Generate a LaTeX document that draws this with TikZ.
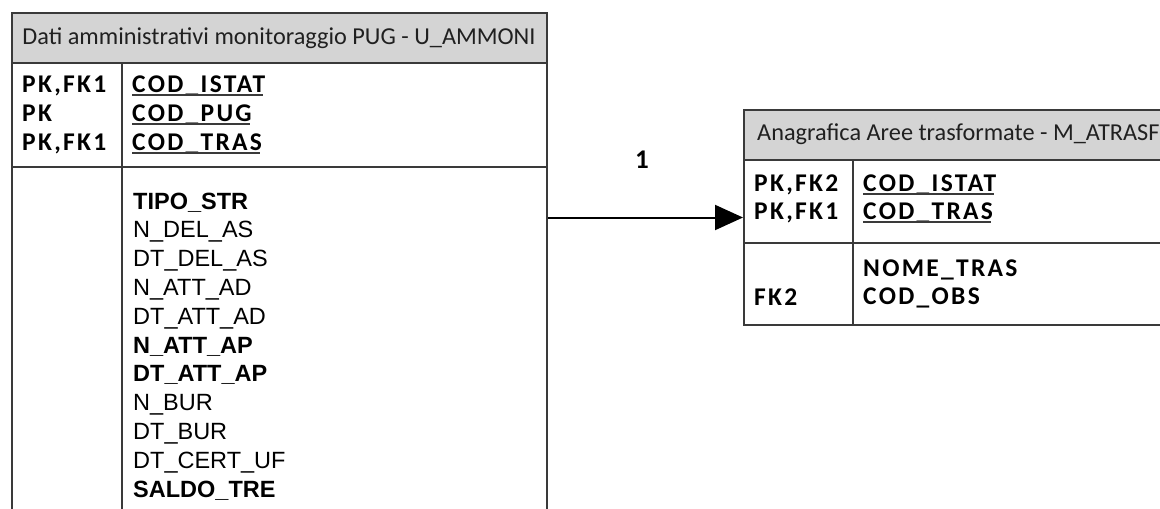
\documentclass[tikz,border=0pt]{standalone}
\usepackage{fontspec}
\setmainfont{Liberation Sans}
\newfontfamily\calibfont{Carlito}
\newfontfamily\keyfnt[LetterSpace=9]{Carlito}
\usetikzlibrary{arrows.meta}
\definecolor{linec}{HTML}{3A3A3A}
\definecolor{hdrfill}{HTML}{D4D4D4}
\definecolor{hdrtext}{HTML}{202020}
\tikzset{
  tbox/.style={draw=linec, line width=2pt, anchor=north west, inner sep=0pt},
  hdr/.style={draw=linec, line width=2pt, fill=hdrfill, anchor=north west, inner sep=0pt},
  title/.style={inner sep=0pt, text=hdrtext, font=\calibfont\fontsize{24.3}{27}\selectfont},
  tline/.style={draw=linec, line width=2pt},
  keyf/.style={anchor=base west, inner sep=0pt, font=\keyfnt\bfseries\fontsize{25.5}{28}\selectfont},
  fld/.style={anchor=base west, inner sep=0pt, font=\fontsize{23.5}{26}\selectfont},
  bfld/.style={anchor=base west, inner sep=0pt, font=\bfseries\fontsize{23.5}{26}\selectfont},
  uline/.style={draw=linec, line width=1.6pt},
  conn/.style={draw=black, line width=2pt, -{Triangle[length=28pt,width=25pt]}},
  card/.style={inner sep=0pt, font=\calibfont\bfseries\fontsize{27}{30}\selectfont}
}
\begin{document}
\begin{tikzpicture}[x=1pt,y=-1pt]
\useasboundingbox (0,0) rectangle (1160,509);
\fill[white] (0,0) rectangle (1160,509);

% ---------- left table ----------
\node[tbox, minimum width=535pt, minimum height=540pt] (ammoni) at (11,12) {};
\node[hdr, minimum width=535pt, minimum height=50pt] (ammonihdr) at (11,12) {};
\node[title, anchor=center] (ammonititle) at (279,38) {Dati amministrativi monitoraggio PUG - U\_AMMONI};
\draw[tline] (11,167) -- (546,167);
\draw[tline] (122,62) -- (122,560);

\node[keyf] (lk1) at (22,92) {PK,FK1};
\node[keyf] (lk2) at (22,121) {PK};
\node[keyf] (lk3) at (22,150) {PK,FK1};
\node[keyf] (lf1) at (132,92) {COD\_ISTAT};
\node[keyf] (lf2) at (132,121) {COD\_PUG};
\node[keyf] (lf3) at (132,150) {COD\_TRAS};
\foreach \n in {lf1,lf2,lf3}
  \draw[uline] ([yshift=-3pt]\n.base west) -- ([yshift=-3pt,xshift=-2pt]\n.base east);

\node[bfld] (b1) at (133,209) {TIPO\_STR};
\node[fld] (b2) at (133,237.8) {N\_DEL\_AS};
\node[fld] (b3) at (133,266.6) {DT\_DEL\_AS};
\node[fld] (b4) at (133,295.4) {N\_ATT\_AD};
\node[fld] (b5) at (133,324.2) {DT\_ATT\_AD};
\node[bfld] (b6) at (133,353) {N\_ATT\_AP};
\node[bfld] (b7) at (133,381.8) {DT\_ATT\_AP};
\node[fld] (b8) at (133,410.6) {N\_BUR};
\node[fld] (b9) at (133,439.4) {DT\_BUR};
\node[fld] (b10) at (133,468.2) {DT\_CERT\_UF};
\node[bfld] (b11) at (133,497) {SALDO\_TRE};

% ---------- right table ----------
\node[tbox, minimum width=480pt, minimum height=215pt] (atrasf) at (743,109) {};
\node[hdr, minimum width=480pt, minimum height=50pt] (atrasfhdr) at (743,109) {};
\node[title, anchor=west] (atrasftitle) at (757,134) {Anagrafica Aree trasformate - M\_ATRASF};
\draw[tline] (743,243) -- (1230,243);
\draw[tline] (853,159) -- (853,324);

\node[keyf] (rk1) at (754,191) {PK,FK2};
\node[keyf] (rk2) at (754,219) {PK,FK1};
\node[keyf] (rf1) at (863,191) {COD\_ISTAT};
\node[keyf] (rf2) at (863,219) {COD\_TRAS};
\foreach \n in {rf1,rf2}
  \draw[uline] ([yshift=-3pt]\n.base west) -- ([yshift=-3pt,xshift=-2pt]\n.base east);
\node[keyf] (rk3) at (754,305) {FK2};
\node[keyf] (rf3) at (863,276) {NOME\_TRAS};
\node[keyf] (rf4) at (863,304) {COD\_OBS};

% ---------- relationship ----------
\draw[conn] (ammoni.east |- atrasf.west) -- (atrasf.west);
\node[card] (one) at (642,160) {1};
\end{tikzpicture}
\end{document}
